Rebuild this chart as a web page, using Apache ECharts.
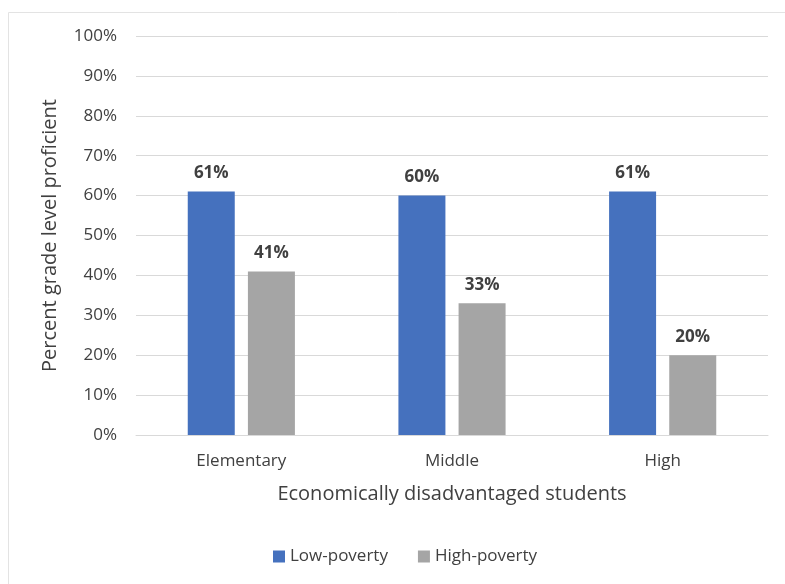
<!DOCTYPE html>
<html>
<head>
<meta charset="utf-8">
<script src="https://cdn.jsdelivr.net/npm/echarts@6/dist/echarts.min.js"></script>
<style>
  html, body { margin: 0; padding: 0; background: #ffffff; }
  #chart { width: 785px; height: 584px; }
</style>
</head>
<body>
<div id="chart"></div>
<script>
// School levels along the x axis
const categories = ['Elementary', 'Middle', 'High'];
// Percent grade level proficient, by school poverty level
const lowPoverty = [61, 60, 61];
const highPoverty = [41, 33, 20];
const seriesNames = ['Low-poverty', 'High-poverty'];

const FONT = '"Open Sans", "Noto Sans", sans-serif';
const TEXT = '#404040';
const chart = echarts.init(document.getElementById('chart'));

const labelStyle = {
  show: true,
  position: 'top',
  distance: 10,
  formatter: '{c}%',
  fontFamily: FONT,
  fontSize: 17,
  fontWeight: 'bold',
  color: TEXT
};

chart.setOption({
  backgroundColor: '#ffffff',
  animation: false,
  graphic: [{
    type: 'rect',
    shape: { x: 8.5, y: 12.5, width: 800, height: 600 },
    style: { fill: 'none', stroke: '#e3e3e3', lineWidth: 1 },
    silent: true
  }],
  grid: { left: 136, right: 17, top: 36, bottom: 149 },
  legend: {
    bottom: 14,
    left: 268,
    itemWidth: 12,
    itemHeight: 12,
    itemGap: 30,
    icon: 'rect',
    textStyle: { fontFamily: FONT, fontSize: 17, color: TEXT },
    data: seriesNames
  },
  xAxis: {
    type: 'category',
    data: categories,
    name: 'Economically disadvantaged students',
    nameLocation: 'middle',
    nameGap: 49,
    nameTextStyle: { fontFamily: FONT, fontSize: 20, color: TEXT },
    axisLine: { lineStyle: { color: '#d9d9d9', width: 1 } },
    axisTick: { show: false },
    axisLabel: { margin: 18, fontFamily: FONT, fontSize: 17, color: TEXT }
  },
  yAxis: {
    type: 'value',
    min: 0,
    max: 100,
    interval: 10,
    name: 'Percent grade level proficient',
    nameLocation: 'middle',
    nameGap: 76,
    nameTextStyle: { fontFamily: FONT, fontSize: 20, color: TEXT },
    axisLine: { show: false },
    axisTick: { show: false },
    axisLabel: { margin: 19, formatter: '{value}%', fontFamily: FONT, fontSize: 17, color: TEXT },
    splitLine: { lineStyle: { color: '#d9d9d9', width: 1 } }
  },
  series: [
    {
      name: seriesNames[0],
      type: 'bar',
      data: lowPoverty,
      barWidth: 47,
      barGap: '28%',
      itemStyle: { color: '#4571be' },
      label: labelStyle
    },
    {
      name: seriesNames[1],
      type: 'bar',
      data: highPoverty,
      barWidth: 47,
      barGap: '28%',
      itemStyle: { color: '#a5a5a5' },
      label: labelStyle
    }
  ]
});
</script>
</body>
</html>
